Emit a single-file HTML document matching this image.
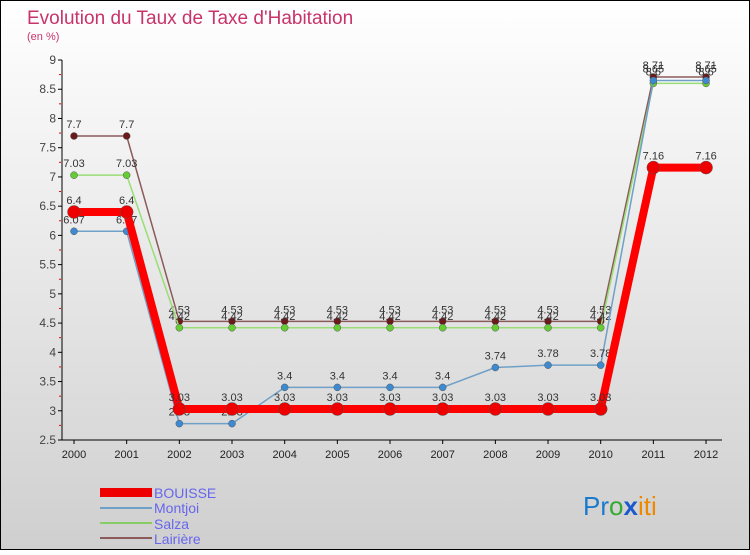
<!DOCTYPE html>
<html><head><meta charset="utf-8"><style>
body{margin:0;width:750px;height:550px;overflow:hidden;font-family:"Liberation Sans",sans-serif}
svg text{font-family:"Liberation Sans",sans-serif}
</style></head><body>
<svg id="c" width="750" height="550">
<defs><linearGradient id="bg" x1="0" y1="0" x2="0" y2="1"><stop offset="0" stop-color="#ffffff"/><stop offset="1" stop-color="#cfcfcf"/></linearGradient></defs>
<rect x="0.5" y="0.5" width="749" height="549" fill="url(#bg)" stroke="#000"/>
<text x="27" y="24" font-size="19" fill="#c8336a">Evolution du Taux de Taxe d'Habitation</text>
<text x="27" y="40" font-size="11" fill="#c8336a">(en %)</text>
<g id="axes"></g><g id="series"></g>
<g>
<rect x="100" y="488" width="52" height="9" fill="#ee0000"/>
<text x="154" y="498" font-size="14" fill="#6666ee">BOUISSE</text>
<line x1="100" y1="508" x2="152" y2="508" stroke="#6fa0c8" stroke-width="2"/>
<text x="154" y="513" font-size="14" fill="#6666ee">Montjoi</text>
<line x1="100" y1="523" x2="152" y2="523" stroke="#88cc66" stroke-width="2"/>
<text x="154" y="529" font-size="14" fill="#6666ee">Salza</text>
<line x1="100" y1="538" x2="152" y2="538" stroke="#8b5a5a" stroke-width="2"/>
<text x="154" y="544" font-size="14" fill="#6666ee">Lairière</text>
</g>
<g font-size="26">
<text x="583" y="515"><tspan fill="#1a7acc">Pr</tspan><tspan fill="#33aa33">o</tspan><tspan fill="#1a5acc" font-weight="bold">x</tspan><tspan fill="#ee8800">iti</tspan></text>
</g>
</svg>
<script>
const years=[2000,2001,2002,2003,2004,2005,2006,2007,2008,2009,2010,2011,2012];
const bouisse=[6.4,6.4,3.03,3.03,3.03,3.03,3.03,3.03,3.03,3.03,3.03,7.16,7.16];
const montjoi=[6.07,6.07,2.78,2.78,3.4,3.4,3.4,3.4,3.74,3.78,3.78,8.65,8.65];
const salza=[7.03,7.03,4.42,4.42,4.42,4.42,4.42,4.42,4.42,4.42,4.42,8.6,8.6];
const lairiere=[7.7,7.7,4.53,4.53,4.53,4.53,4.53,4.53,4.53,4.53,4.53,8.71,8.71];
const yTicks=[2.5,3,3.5,4,4.5,5,5.5,6,6.5,7,7.5,8,8.5,9];
const NS='http://www.w3.org/2000/svg';
const x=i=>74+i*52.67;
const y=v=>440-(v-2.5)*58.46;
function mk(t,a,p){const e=document.createElementNS(NS,t);for(const k in a)e.setAttribute(k,a[k]);p.appendChild(e);return e;}
const ax=document.getElementById('axes');
mk('line',{x1:62,y1:60,x2:62,y2:440,stroke:'#000'},ax);
mk('line',{x1:62,y1:440,x2:722,y2:440,stroke:'#000'},ax);
yTicks.forEach(v=>{
 mk('line',{x1:58,y1:y(v),x2:62,y2:y(v),stroke:'#000'},ax);
 if(v>2.5) mk('line',{x1:59,y1:y(v)+14.6,x2:61,y2:y(v)+14.6,stroke:'#e00'},ax);
 const t=mk('text',{x:56,y:y(v)+4,'text-anchor':'end','font-size':12,fill:'#444'},ax);t.textContent=v;
 
 
});
years.forEach((yr,i)=>{
 mk('line',{x1:x(i),y1:440,x2:x(i),y2:444,stroke:'#000'},ax);
 const t=mk('text',{x:x(i),y:458,'text-anchor':'middle','font-size':11,fill:'#222'},ax);t.textContent=yr;
 
 
});
const sg=document.getElementById('series');
function draw(d,col,w,r,pc,name){
 const g=mk('g',{},sg);
 
 
 mk('polyline',{points:d.map((v,i)=>x(i)+','+y(v)).join(' '),fill:'none',stroke:col,'stroke-width':w,'stroke-linejoin':'round'},g);
 d.forEach((v,i)=>{
  const c=mk('circle',{cx:x(i),cy:y(v),r:r,fill:pc,stroke:'#555','stroke-width':0.5},g);
  
  
  const t=mk('text',{x:x(i),y:y(v)-8,'text-anchor':'middle','font-size':11,fill:'#333'},g);t.textContent=v;
  
  
 });
}
draw(lairiere,'#8b5a5a',1.5,3.5,'#6b1a1a','lairiere');
draw(salza,'#99dd77',1.5,3.5,'#66cc33','salza');
draw(montjoi,'#6fa0c8',1.5,3.5,'#3d8ad0','montjoi');
draw(bouisse,'#ff0000',8,6.5,'#ee0000','bouisse');
</script>
</body></html>
